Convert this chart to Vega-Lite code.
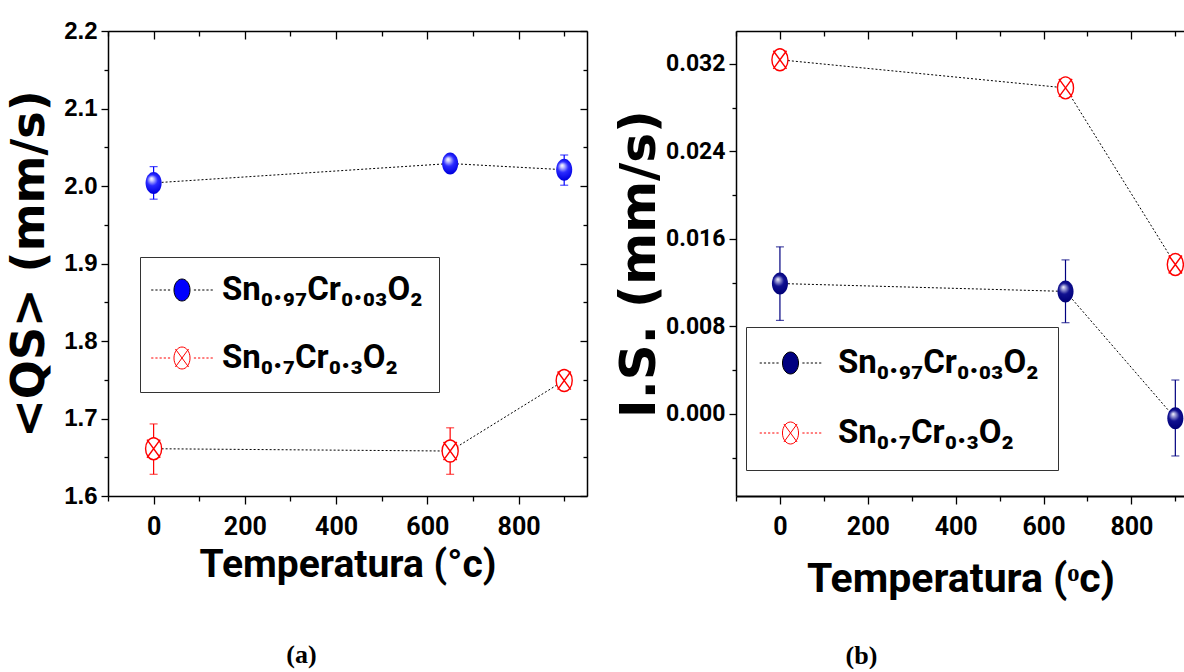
{
  "$schema": "https://vega.github.io/schema/vega-lite/v6.json",
  "background": "white",
  "padding": {"left": 6, "top": 19, "right": 0, "bottom": 0},
  "spacing": 149,
  "bounds": "flush",
  "datasets": {
    "qs": [
      {"T": 0, "v": 2.004, "lo": 1.983, "hi": 2.025, "series": "Sn₀.₉₇Cr₀.₀₃O₂"},
      {"T": 650, "v": 2.029, "lo": null, "hi": null, "series": "Sn₀.₉₇Cr₀.₀₃O₂"},
      {"T": 900, "v": 2.021, "lo": 2.001, "hi": 2.040, "series": "Sn₀.₉₇Cr₀.₀₃O₂"},
      {"T": 0, "v": 1.661, "lo": 1.628, "hi": 1.693, "series": "Sn₀.₇Cr₀.₃O₂"},
      {"T": 650, "v": 1.658, "lo": 1.628, "hi": 1.688, "series": "Sn₀.₇Cr₀.₃O₂"},
      {"T": 900, "v": 1.749, "lo": null, "hi": null, "series": "Sn₀.₇Cr₀.₃O₂"}
    ],
    "is": [
      {"T": 0, "v": 0.01192, "lo": 0.00855, "hi": 0.01527, "series": "Sn₀.₉₇Cr₀.₀₃O₂"},
      {"T": 650, "v": 0.0112, "lo": 0.00834, "hi": 0.01408, "series": "Sn₀.₉₇Cr₀.₀₃O₂"},
      {"T": 900, "v": -0.0004, "lo": -0.00384, "hi": 0.0031, "series": "Sn₀.₉₇Cr₀.₀₃O₂"},
      {"T": 0, "v": 0.03237, "lo": null, "hi": null, "series": "Sn₀.₇Cr₀.₃O₂"},
      {"T": 650, "v": 0.0298, "lo": null, "hi": null, "series": "Sn₀.₇Cr₀.₃O₂"},
      {"T": 900, "v": 0.01366, "lo": null, "hi": null, "series": "Sn₀.₇Cr₀.₃O₂"}
    ]
  },
  "hconcat": [
    {
      "width": 479,
      "height": 465,
      "data": {"name": "qs"},
      "title": {"text": "(a)", "orient": "bottom", "anchor": "middle", "dx": -46, "offset": 58, "font": "Liberation Serif", "fontSize": 26, "fontWeight": "bold", "color": "black"},
      "resolve": {"axis": {"x": "independent", "y": "independent"}},
      "layer": [
        {
          "mark": {"type": "line", "color": "black", "strokeWidth": 1, "strokeDash": [2, 2]},
          "encoding": {
            "x": {"field": "T", "type": "quantitative", "scale": {"domain": [-100, 950], "nice": false, "zero": false},
              "axis": {"orient": "bottom", "values": [-100, 0, 100, 200, 300, 400, 500, 600, 700, 800, 900],
                "labelExpr": "datum.value % 200 === 0 && datum.value >= 0 ? datum.label : ''",
                "tickSize": {"condition": {"test": "datum.value % 200 === 0", "value": 8}, "value": 5},
                "tickWidth": 1.3, "domainWidth": 1.5, "labelFont": "Roboto", "labelFontSize": 25, "labelFontWeight": "bold", "labelPadding": 10, "labelOverlap": false, "labelFlush": false,
                "title": "Temperatura (°c)", "titleFont": "Roboto", "titleFontSize": 39, "titleFontWeight": "bold", "titlePadding": 6}},
            "y": {"field": "v", "type": "quantitative", "scale": {"domain": [1.6, 2.2], "nice": false, "zero": false},
              "axis": {"orient": "left", "values": [1.6, 1.65, 1.7, 1.75, 1.8, 1.85, 1.9, 1.95, 2.0, 2.05, 2.1, 2.15, 2.2],
                "labelExpr": "abs(datum.value*10-round(datum.value*10)) < 0.001 ? format(datum.value, '.1f') : ''",
                "tickSize": {"condition": {"test": "abs(datum.value*10-round(datum.value*10)) < 0.001", "value": 7}, "value": 4},
                "tickWidth": 1.3, "domainWidth": 1.5, "labelFont": "Liberation Sans", "labelFontSize": 24, "labelFontWeight": "bold", "labelPadding": 4, "labelOverlap": false, "labelFlush": false,
                "title": "<QS> (mm/s)", "titleFont": "DejaVu Sans", "titleFontSize": 46, "titleFontWeight": "bold", "titlePadding": 10}},
            "detail": {"field": "series", "type": "nominal"}
          }
        },
        {
          "transform": [{"filter": "datum.lo != null && datum.series === 'Sn₀.₉₇Cr₀.₀₃O₂'"}],
          "mark": {"type": "errorbar", "ticks": true, "size": 8, "thickness": 1.2, "color": "#0000ff"},
          "encoding": {
            "x": {"field": "T", "type": "quantitative", "axis": null},
            "y": {"field": "lo", "type": "quantitative", "axis": null},
            "y2": {"field": "hi"}
          }
        },
        {
          "transform": [{"filter": "datum.lo != null && datum.series === 'Sn₀.₇Cr₀.₃O₂'"}],
          "mark": {"type": "errorbar", "ticks": true, "size": 8, "thickness": 1.2, "color": "#ff0000"},
          "encoding": {
            "x": {"field": "T", "type": "quantitative", "axis": null},
            "y": {"field": "lo", "type": "quantitative", "axis": null},
            "y2": {"field": "hi"}
          }
        },
        {
          "transform": [{"filter": "datum.series === 'Sn₀.₉₇Cr₀.₀₃O₂'"}],
          "mark": {"type": "point", "shape": "M0,-1A0.73,1,0,1,1,0,1A0.73,1,0,1,1,0,-1Z", "size": 484, "filled": true, "opacity": 1, "strokeWidth": 0,
            "fill": {"gradient": "radial", "x1": 0.4, "y1": 0.3, "r1": 0, "x2": 0.5, "y2": 0.5, "r2": 0.62,
              "stops": [{"offset": 0, "color": "#ffffff"}, {"offset": 0.12, "color": "#d0d0ff"}, {"offset": 0.4, "color": "#2a2aff"}, {"offset": 0.8, "color": "#0000e0"}, {"offset": 1, "color": "#0000a8"}]}},
          "encoding": {
            "x": {"field": "T", "type": "quantitative", "axis": null},
            "y": {"field": "v", "type": "quantitative", "axis": null}
          }
        },
        {
          "transform": [{"filter": "datum.series === 'Sn₀.₇Cr₀.₃O₂'"}],
          "mark": {"type": "point", "shape": "M0,-1A0.73,1,0,1,1,0,1A0.73,1,0,1,1,0,-1ZM-0.6,-0.82L0.6,0.82M-0.6,0.82L0.6,-0.82", "size": 484, "filled": true, "opacity": 1, "fill": "#ffffff", "stroke": "#ff0000", "strokeWidth": 1.4},
          "encoding": {
            "x": {"field": "T", "type": "quantitative", "axis": null},
            "y": {"field": "v", "type": "quantitative", "axis": null}
          }
        },
        {
          "mark": {"type": "point", "opacity": 0},
          "encoding": {
            "x": {"field": "T", "type": "quantitative",
              "axis": {"orient": "top", "values": [-100, 0, 100, 200, 300, 400, 500, 600, 700, 800, 900], "labels": false, "title": null,
                "tickSize": {"condition": {"test": "datum.value % 200 === 0", "value": -8}, "value": -5}, "tickWidth": 1.3, "domainWidth": 1.5}},
            "y": {"field": "v", "type": "quantitative",
              "axis": {"orient": "right", "values": [1.6, 1.65, 1.7, 1.75, 1.8, 1.85, 1.9, 1.95, 2.0, 2.05, 2.1, 2.15, 2.2], "labels": false, "title": null,
                "tickSize": {"condition": {"test": "abs(datum.value*10-round(datum.value*10)) < 0.001", "value": -7}, "value": -4}, "tickWidth": 1.3, "domainWidth": 1.5}},
            "shape": {"field": "series", "type": "nominal",
              "scale": {"domain": ["Sn₀.₉₇Cr₀.₀₃O₂", "Sn₀.₇Cr₀.₃O₂"], "range": [
                "M0,-1A0.73,1,0,1,1,0,1A0.73,1,0,1,1,0,-1ZM-2.8,0H-2.6M-2.42,0H-2.22M-2.04,0H-1.84M-1.66,0H-1.46M-1.28,0H-1.08M1.08,0H1.28M1.46,0H1.66M1.84,0H2.04M2.22,0H2.42M2.6,0H2.8",
                "M0,-1A0.73,1,0,1,1,0,1A0.73,1,0,1,1,0,-1ZM-0.6,-0.82L0.6,0.82M-0.6,0.82L0.6,-0.82M-2.8,0H-2.6M-2.42,0H-2.22M-2.04,0H-1.84M-1.66,0H-1.46M-1.28,0H-1.08M1.08,0H1.28M1.46,0H1.66M1.84,0H2.04M2.22,0H2.42M2.6,0H2.8"]},
              "legend": {"orient": "none", "legendX": 32, "legendY": 226, "title": null, "labelFont": "Roboto", "labelFontSize": 33, "labelFontWeight": "bold", "labelColor": "black", "labelLimit": 500, "symbolSize": 484, "symbolOpacity": 1, "symbolStrokeWidth": 1, "strokeColor": "#333333", "fillColor": "#ffffff", "padding": 16.5, "symbolOffset": 9, "labelOffset": 23.5, "rowPadding": 34}},
            "fill": {"field": "series", "type": "nominal",
              "scale": {"domain": ["Sn₀.₉₇Cr₀.₀₃O₂", "Sn₀.₇Cr₀.₃O₂"], "range": ["#0000ff", "#ffffff"]},
              "legend": {"orient": "none", "legendX": 32, "legendY": 226, "title": null, "labelFont": "Roboto", "labelFontSize": 33, "labelFontWeight": "bold", "labelColor": "black", "labelLimit": 500, "symbolSize": 484, "symbolOpacity": 1, "symbolStrokeWidth": 1, "strokeColor": "#333333", "fillColor": "#ffffff", "padding": 16.5, "symbolOffset": 9, "labelOffset": 23.5, "rowPadding": 34}},
            "stroke": {"field": "series", "type": "nominal",
              "scale": {"domain": ["Sn₀.₉₇Cr₀.₀₃O₂", "Sn₀.₇Cr₀.₃O₂"], "range": ["#000000", "#ff0000"]},
              "legend": {"orient": "none", "legendX": 32, "legendY": 226, "title": null, "labelFont": "Roboto", "labelFontSize": 33, "labelFontWeight": "bold", "labelColor": "black", "labelLimit": 500, "symbolSize": 484, "symbolOpacity": 1, "symbolStrokeWidth": 1, "strokeColor": "#333333", "fillColor": "#ffffff", "padding": 16.5, "symbolOffset": 9, "labelOffset": 23.5, "rowPadding": 34}},
            "size": {"value": 484}
          }
        }
      ]
    },
    {
      "width": 449,
      "height": 465,
      "data": {"name": "is"},
      "title": {"text": "(b)", "orient": "bottom", "anchor": "middle", "dx": -99, "offset": 44, "font": "Liberation Serif", "fontSize": 26, "fontWeight": "bold", "color": "black"},
      "resolve": {"axis": {"x": "independent", "y": "independent"}},
      "layer": [
        {
          "mark": {"type": "line", "color": "black", "strokeWidth": 1, "strokeDash": [2, 2]},
          "encoding": {
            "x": {"field": "T", "type": "quantitative", "scale": {"domain": [-100, 922], "nice": false, "zero": false},
              "axis": {"orient": "bottom", "values": [-100, 0, 100, 200, 300, 400, 500, 600, 700, 800, 900],
                "labelExpr": "datum.value % 200 === 0 && datum.value >= 0 ? datum.label : ''",
                "tickSize": {"condition": {"test": "datum.value % 200 === 0", "value": 8}, "value": 5},
                "tickWidth": 1.3, "domainWidth": 2, "labelFont": "Roboto", "labelFontSize": 25, "labelFontWeight": "bold", "labelPadding": 10, "labelOverlap": false, "labelFlush": false,
                "title": "Temperatura (ᵒc)", "titleFont": "Roboto", "titleFontSize": 41, "titleFontWeight": "bold", "titlePadding": 20}},
            "y": {"field": "v", "type": "quantitative", "scale": {"domain": [-0.0075, 0.035], "nice": false, "zero": false},
              "axis": {"orient": "left", "values": [-0.004, 0, 0.004, 0.008, 0.012, 0.016, 0.02, 0.024, 0.028, 0.032],
                "labelExpr": "abs(datum.value/0.008-round(datum.value/0.008)) < 0.001 ? format(datum.value, '.3f') : ''",
                "tickSize": {"condition": {"test": "abs(datum.value/0.008-round(datum.value/0.008)) < 0.001", "value": 7}, "value": 4},
                "tickWidth": 1.3, "domainWidth": 1.5, "labelFont": "Roboto", "labelFontSize": 23, "labelFontWeight": "bold", "labelPadding": 4, "labelOverlap": false, "labelFlush": false,
                "title": "I.S.   (mm/s)", "titleFont": "DejaVu Sans", "titleFontSize": 50, "titleFontWeight": "bold", "titlePadding": 1}},
            "detail": {"field": "series", "type": "nominal"}
          }
        },
        {
          "transform": [{"filter": "datum.lo != null && datum.series === 'Sn₀.₉₇Cr₀.₀₃O₂'"}],
          "mark": {"type": "errorbar", "ticks": true, "size": 8, "thickness": 1.2, "color": "#000080"},
          "encoding": {
            "x": {"field": "T", "type": "quantitative", "axis": null},
            "y": {"field": "lo", "type": "quantitative", "axis": null},
            "y2": {"field": "hi"}
          }
        },
        {
          "transform": [{"filter": "datum.series === 'Sn₀.₉₇Cr₀.₀₃O₂'"}],
          "mark": {"type": "point", "shape": "M0,-1A0.73,1,0,1,1,0,1A0.73,1,0,1,1,0,-1Z", "size": 484, "filled": true, "opacity": 1, "strokeWidth": 0,
            "fill": {"gradient": "radial", "x1": 0.4, "y1": 0.3, "r1": 0, "x2": 0.5, "y2": 0.5, "r2": 0.62,
              "stops": [{"offset": 0, "color": "#ffffff"}, {"offset": 0.12, "color": "#b0b0e0"}, {"offset": 0.4, "color": "#101090"}, {"offset": 0.8, "color": "#000078"}, {"offset": 1, "color": "#000050"}]}},
          "encoding": {
            "x": {"field": "T", "type": "quantitative", "axis": null},
            "y": {"field": "v", "type": "quantitative", "axis": null}
          }
        },
        {
          "transform": [{"filter": "datum.series === 'Sn₀.₇Cr₀.₃O₂'"}],
          "mark": {"type": "point", "shape": "M0,-1A0.73,1,0,1,1,0,1A0.73,1,0,1,1,0,-1ZM-0.6,-0.82L0.6,0.82M-0.6,0.82L0.6,-0.82", "size": 484, "filled": true, "opacity": 1, "fill": "#ffffff", "stroke": "#ff0000", "strokeWidth": 1.4},
          "encoding": {
            "x": {"field": "T", "type": "quantitative", "axis": null},
            "y": {"field": "v", "type": "quantitative", "axis": null}
          }
        },
        {
          "mark": {"type": "point", "opacity": 0},
          "encoding": {
            "x": {"field": "T", "type": "quantitative",
              "axis": {"orient": "top", "values": [-100, 0, 100, 200, 300, 400, 500, 600, 700, 800, 900], "labels": false, "title": null,
                "tickSize": {"condition": {"test": "datum.value % 200 === 0", "value": -8}, "value": -5}, "tickWidth": 1.3, "domainWidth": 1.5}},
            "y": {"field": "v", "type": "quantitative", "axis": null},
            "shape": {"field": "series", "type": "nominal",
              "scale": {"domain": ["Sn₀.₉₇Cr₀.₀₃O₂", "Sn₀.₇Cr₀.₃O₂"], "range": [
                "M0,-1A0.73,1,0,1,1,0,1A0.73,1,0,1,1,0,-1ZM-2.8,0H-2.6M-2.42,0H-2.22M-2.04,0H-1.84M-1.66,0H-1.46M-1.28,0H-1.08M1.08,0H1.28M1.46,0H1.66M1.84,0H2.04M2.22,0H2.42M2.6,0H2.8",
                "M0,-1A0.73,1,0,1,1,0,1A0.73,1,0,1,1,0,-1ZM-0.6,-0.82L0.6,0.82M-0.6,0.82L0.6,-0.82M-2.8,0H-2.6M-2.42,0H-2.22M-2.04,0H-1.84M-1.66,0H-1.46M-1.28,0H-1.08M1.08,0H1.28M1.46,0H1.66M1.84,0H2.04M2.22,0H2.42M2.6,0H2.8"]},
              "legend": {"orient": "none", "legendX": 10, "legendY": 296, "title": null, "labelFont": "Roboto", "labelFontSize": 33, "labelFontWeight": "bold", "labelColor": "black", "labelLimit": 500, "symbolSize": 484, "symbolOpacity": 1, "symbolStrokeWidth": 1, "strokeColor": "#333333", "fillColor": "#ffffff", "padding": 19.5, "symbolOffset": 8.5, "labelOffset": 31, "rowPadding": 36}},
            "fill": {"field": "series", "type": "nominal",
              "scale": {"domain": ["Sn₀.₉₇Cr₀.₀₃O₂", "Sn₀.₇Cr₀.₃O₂"], "range": ["#000080", "#ffffff"]},
              "legend": {"orient": "none", "legendX": 10, "legendY": 296, "title": null, "labelFont": "Roboto", "labelFontSize": 33, "labelFontWeight": "bold", "labelColor": "black", "labelLimit": 500, "symbolSize": 484, "symbolOpacity": 1, "symbolStrokeWidth": 1, "strokeColor": "#333333", "fillColor": "#ffffff", "padding": 19.5, "symbolOffset": 8.5, "labelOffset": 31, "rowPadding": 36}},
            "stroke": {"field": "series", "type": "nominal",
              "scale": {"domain": ["Sn₀.₉₇Cr₀.₀₃O₂", "Sn₀.₇Cr₀.₃O₂"], "range": ["#000000", "#ff0000"]},
              "legend": {"orient": "none", "legendX": 10, "legendY": 296, "title": null, "labelFont": "Roboto", "labelFontSize": 33, "labelFontWeight": "bold", "labelColor": "black", "labelLimit": 500, "symbolSize": 484, "symbolOpacity": 1, "symbolStrokeWidth": 1, "strokeColor": "#333333", "fillColor": "#ffffff", "padding": 19.5, "symbolOffset": 8.5, "labelOffset": 31, "rowPadding": 36}},
            "size": {"value": 484}
          }
        }
      ]
    }
  ],
  "resolve": {"scale": {"shape": "independent", "fill": "independent", "stroke": "independent"}},
  "config": {
    "view": {"stroke": null},
    "axis": {"grid": false, "domainColor": "black", "tickColor": "black", "labelColor": "black", "titleColor": "black"}
  }
}
